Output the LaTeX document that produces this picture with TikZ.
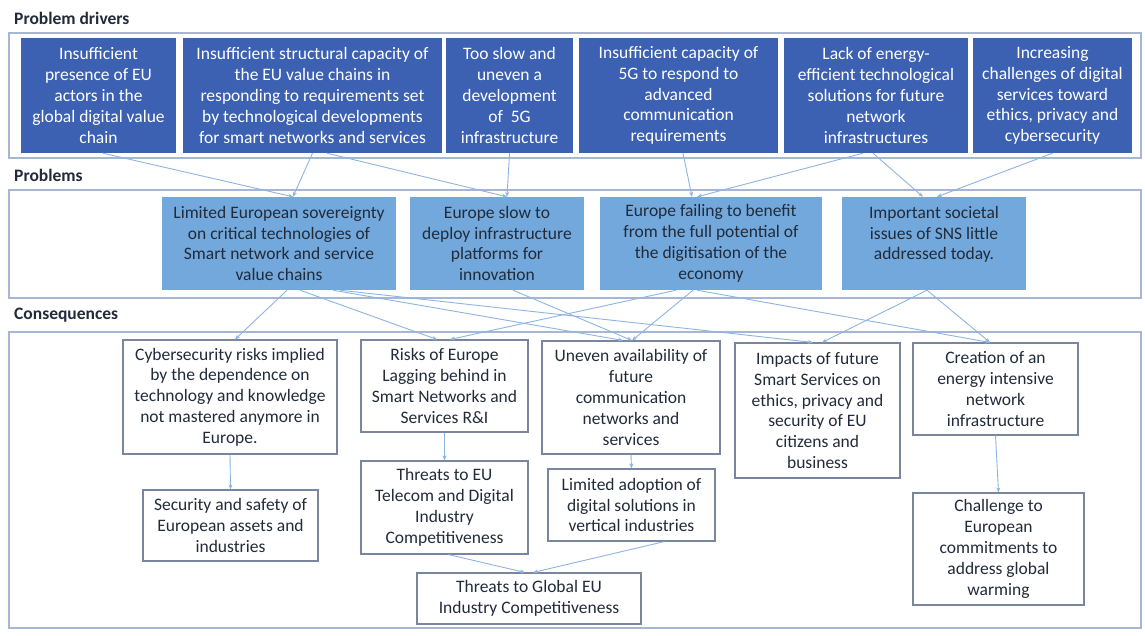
\documentclass[tikz,border=0pt]{standalone}
\usepackage{fontspec}
\setmainfont{Carlito}
\usepackage{tikz}
\usetikzlibrary{
  arrows.meta,
  calc
}
\definecolor{drvblue}{HTML}{3C61B3}
\definecolor{prbblue}{HTML}{72A8DB}
\definecolor{linkblue}{HTML}{8DB4E2}
\definecolor{framegray}{HTML}{A7B6D4}
\definecolor{boxgray}{HTML}{7A869E}
\definecolor{inkdark}{HTML}{222B3A}
\newcommand\boxfont{\fontsize{17.5}{20.8}\selectfont}
\tikzset{
  every box/.style={align=center,inner sep=0pt,font=\boxfont},
  drvbox/.style={every box,fill=drvblue,text=white},
  prbbox/.style={every box,fill=prbblue,text=inkdark},
  consbox/.style={every box,draw=boxgray,line width=1.1pt,text=inkdark},
  section/.style={anchor=west,inner sep=0pt,font=\fontsize{17.5}{20}\selectfont\bfseries,text=inkdark},
  frame/.style={draw=framegray,line width=1.2pt},
  link/.style={draw=linkblue,line width=0.9pt,-{Stealth[length=5pt,width=4pt]}},
}

\begin{document}
\begin{tikzpicture}[x=1pt,y=-1pt]
\useasboundingbox (0,0) rectangle (1145,635);
\fill[white] (0,0) rectangle (1145,635);

\node[section] (lbldrv) at (14,18) {Problem drivers};
\draw[frame] (9,33) rectangle (1141,158);
\node[drvbox,minimum width=155,minimum height=115] (d1) at (98.5,95.5) {Insufficient\\presence of EU\\actors in the\\global digital value\\chain};
\node[drvbox,minimum width=259,minimum height=115] (d2) at (312.5,95.5) {Insufficient structural capacity of\\the EU value chains in\\responding to requirements set\\by technological developments\\for smart networks and services};
\node[drvbox,minimum width=127,minimum height=115] (d3) at (509.5,95.5) {Too slow and\\uneven a\\development\\of\ \ 5G\\infrastructure};
\node[drvbox,minimum width=199,minimum height=115] (d4) at (678.5,95.5) {Insufficient capacity of\\5G to respond to\\advanced\\communication\\requirements};
\node[drvbox,minimum width=184,minimum height=115] (d5) at (876,95.5) {Lack of energy-\\efficient technological\\solutions for future\\network\\infrastructures};
\node[drvbox,minimum width=159,minimum height=115] (d6) at (1052.5,95.5) {Increasing\\challenges of digital\\services toward\\ethics, privacy and\\cybersecurity};

\node[section] (lblprb) at (14,175) {Problems};
\draw[frame] (9,190) rectangle (1141,298);
\node[prbbox,minimum width=234,minimum height=93] (p1) at (279,243.5) {Limited European sovereignty\\on critical technologies of\\Smart network and service\\value chains};
\node[prbbox,minimum width=174,minimum height=93] (p2) at (497,243.5) {Europe slow to\\deploy infrastructure\\platforms for\\innovation};
\node[prbbox,minimum width=222,minimum height=93] (p3) at (711,243.5) {Europe failing to benefit\\from the full potential of\\the digitisation of the\\economy};
\node[prbbox,minimum width=184,minimum height=93] (p4) at (934,243.5) {Important societal\\issues of SNS little\\addressed today.\\\mbox{}};

\node[section] (lblcons) at (14,315) {Consequences};
\draw[frame] (9,332) rectangle (1141,628);
\node[consbox,minimum width=214,minimum height=114] (c1) at (230,397) {Cybersecurity risks implied\\by the dependence on\\technology and knowledge\\not mastered anymore in\\Europe.};
\node[consbox,minimum width=167,minimum height=92] (c2) at (444.5,386) {Risks of Europe\\Lagging behind in\\Smart Networks and\\Services R\&I};
\node[consbox,minimum width=178,minimum height=113] (c3) at (631,397.5) {Uneven availability of\\future\\communication\\networks and\\services};
\node[consbox,minimum width=165,minimum height=135] (c4) at (817.5,410.5) {Impacts of future\\Smart Services on\\ethics, privacy and\\security of EU\\citizens and\\business};
\node[consbox,minimum width=165,minimum height=92] (c5) at (995.5,389) {Creation of an\\energy intensive\\network\\infrastructure};
\node[consbox,minimum width=175,minimum height=71] (c1b) at (230.5,525.5) {Security and safety of\\European assets and\\industries};
\node[consbox,minimum width=167,minimum height=93] (c2b) at (444.5,507.5) {Threats to EU\\Telecom and Digital\\Industry\\Competitiveness};
\node[consbox,minimum width=167,minimum height=72] (c3b) at (631.5,505) {Limited adoption of\\digital solutions in\\vertical industries};
\node[consbox,minimum width=171,minimum height=112] (c5b) at (998.5,549) {Challenge to\\European\\commitments to\\address global\\warming};
\node[consbox,minimum width=224,minimum height=51] (glob) at (529,598.5) {Threats to Global EU\\Industry Competitiveness};

\draw[link] ([xshift=4.5]d1.south) -- ([xshift=14]p1.north);
\draw[link] (d2.south) -- ([xshift=14]p1.north);
\draw[link] ([xshift=14.5]d2.south) -- ([xshift=10]p2.north);
\draw[link] (d3.south) -- ([xshift=10]p2.north);
\draw[link] ([xshift=4.5]d4.south) -- ([xshift=-19]p3.north);
\draw[link] ([xshift=-13]d5.south) -- ([xshift=-14]p3.north);
\draw[link] ([xshift=-3]d5.south) -- ([xshift=-11]p4.north);
\draw[link] (d6.south) -- ([xshift=3]p4.north);

\draw[link] ([xshift=8]p1.south) -- ([xshift=5]c1.north);
\draw[link] ([xshift=21]p1.south) -- ([xshift=-7.5]c2.north);
\draw[link] ([xshift=54]p1.south) -- ([xshift=-8]c3.north);
\draw[link] ([xshift=61]p1.south) -- ([xshift=-4.5]c4.north);
\draw[link] ([xshift=16]p2.south) -- ([xshift=1]c3.north);
\draw[link] ([xshift=-35]p3.south) -- ([xshift=5.5]c2.north);
\draw[link] ([xshift=-18]p3.south) -- ([xshift=1]c3.north);
\draw[link] ([xshift=-14]p3.south) -- ([xshift=-5.5]c5.north);
\draw[link] ([xshift=-7]p4.south) -- ([xshift=4.5]c4.north);
\draw[link] ([xshift=-7]p4.south) -- ([xshift=-5.5]c5.north);

\draw[link] (c1.south) -- (c1b.north);
\draw[link] (c2.south) -- (c2b.north);
\draw[link] (c3.south) -- (c3b.north);
\draw[link] (c5.south) -- (c5b.north);
\draw[link] ([xshift=4]c2b.south) -- ([xshift=-4]glob.north);
\draw[link] ([xshift=33]c3b.south) -- ([xshift=4]glob.north);
\end{tikzpicture}
\end{document}
